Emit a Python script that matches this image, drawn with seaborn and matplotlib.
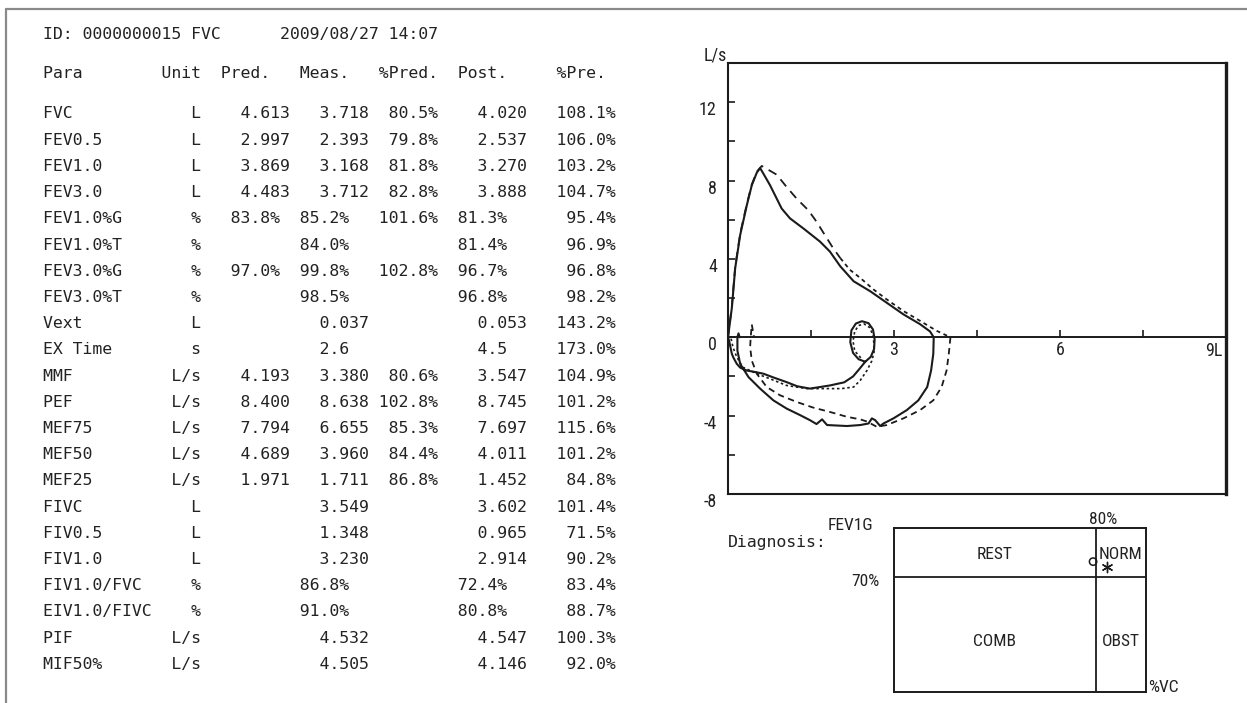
import matplotlib
matplotlib.use("Agg")
import matplotlib.pyplot as plt
import matplotlib.transforms as mtransforms
from matplotlib import font_manager
from matplotlib.lines import Line2D
import pandas as pd
import seaborn as sns

# ---------------- report table ----------------
para = ["FVC", "FEV0.5", "FEV1.0", "FEV3.0", "FEV1.0%G", "FEV1.0%T", "FEV3.0%G",
        "FEV3.0%T", "Vext", "EX Time", "MMF", "PEF", "MEF75", "MEF50", "MEF25",
        "FIVC", "FIV0.5", "FIV1.0", "FIV1.0/FVC", "EIV1.0/FIVC", "PIF", "MIF50%"]
unit = ["L", "L", "L", "L", "%", "%", "%", "%", "L", "s", "L/s", "L/s", "L/s",
        "L/s", "L/s", "L", "L", "L", "%", "%", "L/s", "L/s"]
pred = ["4.613", "2.997", "3.869", "4.483", "83.8%", "", "97.0%", "", "", "",
        "4.193", "8.400", "7.794", "4.689", "1.971", "", "", "", "", "", "", ""]
meas = ["3.718", "2.393", "3.168", "3.712", "85.2%", "84.0%", "99.8%", "98.5%",
        "0.037", "2.6", "3.380", "8.638", "6.655", "3.960", "1.711", "3.549",
        "1.348", "3.230", "86.8%", "91.0%", "4.532", "4.505"]
pct_pred = ["80.5%", "79.8%", "81.8%", "82.8%", "101.6%", "", "102.8%", "", "", "",
            "80.6%", "102.8%", "85.3%", "84.4%", "86.8%", "", "", "", "", "", "", ""]
post = ["4.020", "2.537", "3.270", "3.888", "81.3%", "81.4%", "96.7%", "96.8%",
        "0.053", "4.5", "3.547", "8.745", "7.697", "4.011", "1.452", "3.602",
        "0.965", "2.914", "72.4%", "80.8%", "4.547", "4.146"]
pct_pre = ["108.1%", "106.0%", "103.2%", "104.7%", "95.4%", "96.9%", "96.8%", "98.2%",
           "143.2%", "173.0%", "104.9%", "101.2%", "115.6%", "101.2%", "84.8%",
           "101.4%", "71.5%", "90.2%", "83.4%", "88.7%", "100.3%", "92.0%"]
headers = ["Para", "Unit", "Pred.", "Meas.", "%Pred.", "Post.", "%Pre."]
title_id = "ID: 0000000015"
title_mode = "FVC"
title_date = "2009/08/27"
title_time = "14:07"

# ---------------- flow-volume curves (volume L, flow L/s) ----------------
# measured: tidal loop -> max inspiration -> forced expiration -> forced inspiration
meas_vol = [2.48, 2.36, 2.26, 2.21, 2.23, 2.31, 2.42, 2.54, 2.62, 2.65, 2.64, 2.58, 2.48,
            2.38, 2.26, 2.10, 1.84, 1.48, 1.25, 1.06, 0.82, 0.64, 0.45, 0.34, 0.22, 0.16,
            0.10, 0.07, 0.04, 0.02, 0.00,
            0.07, 0.13, 0.22, 0.34, 0.43, 0.52, 0.58, 0.64, 0.76, 0.97, 1.12, 1.36, 1.66,
            1.84, 2.03, 2.27, 2.57, 2.87, 3.17, 3.47, 3.65, 3.718,
            3.71, 3.67, 3.60, 3.44, 3.23, 2.99, 2.81, 2.75, 2.66, 2.60, 2.54, 2.39, 2.15,
            1.79, 1.70, 1.60, 1.48, 1.30, 1.06, 0.82, 0.58, 0.37, 0.22, 0.17, 0.17, 0.19,
            0.21]
meas_flow = [-1.25, -1.12, -0.80, -0.25, 0.35, 0.70, 0.82, 0.72, 0.40, -0.10, -0.60, -1.00,
             -1.25, -1.60, -2.00, -2.30, -2.46, -2.62, -2.50, -2.29, -2.05, -1.86, -1.75,
             -1.70, -1.55, -1.36, -1.05, -0.85, -0.45, -0.18, 0.00,
             1.51, 3.53, 5.22, 6.74, 7.76, 8.40, 8.638, 8.35, 7.76, 6.57, 6.07, 5.56, 4.89,
             4.38, 3.62, 2.86, 2.35, 1.76, 1.17, 0.67, 0.30, 0.00,
             -0.85, -1.70, -2.54, -3.22, -3.72, -4.14, -4.40, -4.53, -4.23, -4.14, -4.40,
             -4.48, -4.53, -4.48, -4.19, -4.43, -4.23, -3.97, -3.64, -3.22, -2.62, -2.03,
             -1.36, -0.68, 0.00, 0.20, 0.00]

# post: tidal loop and max inspiration (dotted)
post_tidal_vol = [2.40, 2.29, 2.26, 2.29, 2.36, 2.46, 2.56, 2.62, 2.64, 2.64, 2.60, 2.51,
                  2.39, 2.27, 2.05, 1.84, 1.42, 1.06, 0.76, 0.52, 0.27, 0.16, 0.09, 0.05]
post_tidal_flow = [-1.05, -0.70, -0.20, 0.30, 0.60, 0.68, 0.50, 0.10, -0.40, -0.75, -1.20,
                   -1.70, -2.20, -2.54, -2.62, -2.62, -2.62, -2.46, -2.12, -1.86, -1.53,
                   -1.02, -0.51, 0.00]
# post: forced expiration, dashed head and dotted tail
post_exp_vol = [0.00, 0.07, 0.13, 0.22, 0.34, 0.43, 0.52, 0.61, 0.88, 1.06, 1.24, 1.45,
                1.60, 1.75, 1.90, 2.03]
post_exp_flow = [0.00, 1.60, 3.60, 5.30, 6.80, 7.80, 8.45, 8.745, 8.30, 7.67, 7.08, 6.49,
                 5.90, 5.22, 4.55, 4.04]
post_tail_vol = [2.03, 2.20, 2.39, 2.63, 2.87, 3.17, 3.47, 3.77, 4.02]
post_tail_flow = [4.04, 3.45, 3.03, 2.44, 1.93, 1.34, 0.84, 0.33, 0.00]
# post: forced inspiration (dashed)
post_insp_vol = [4.02, 3.99, 3.95, 3.86, 3.71, 3.47, 3.17, 2.87, 2.69, 2.51, 2.39, 2.15,
                 1.84, 1.54, 1.24, 0.94, 0.70, 0.52, 0.43, 0.40, 0.41, 0.43, 0.47]
post_insp_flow = [0.00, -0.85, -1.70, -2.54, -3.22, -3.72, -4.14, -4.48, -4.57, -4.30,
                  -4.19, -4.06, -3.81, -3.59, -3.30, -2.96, -2.54, -1.86, -1.19, -0.51,
                  0.00, 0.65, 0.00]

# diagnosis chart (%VC vs FEV1G)
vc_cut = 80
fev1g_cut = 70
meas_point = (79.0, 79.5)
post_point = (84.5, 76.0)
zones = ["REST", "NORM", "COMB", "OBST"]

# ---------------- styling ----------------
W, H, DPI = 1247, 703, 100
INK = "#1b1b1b"
TXT = "#222222"

sns.set_theme(style="white")
installed = {f.name for f in font_manager.fontManager.ttflist}
narrow = next((f for f in ["Liberation Sans Narrow", "DejaVu Sans Condensed", "Roboto Condensed"]
               if f in installed), "DejaVu Sans")
MONO = "DejaVu Sans Mono"
plt.rcParams["font.family"] = [narrow, "DejaVu Sans"]
plt.rcParams["text.color"] = TXT

fig = plt.figure(figsize=(W / DPI, H / DPI), dpi=DPI)
fig.patch.set_facecolor("white")


def ftext(x, y, s, **kw):
    """Place text by pixel position measured from the top-left corner."""
    kw.setdefault("va", "center")
    kw.setdefault("color", TXT)
    return fig.text(x / W, 1 - y / H, s, **kw)


# page border
fig.add_artist(Line2D([6 / W, 6 / W], [0, 1 - 9 / H], transform=fig.transFigure,
                      color="#8a8a8a", lw=1.6))
fig.add_artist(Line2D([6 / W, 1], [1 - 9 / H, 1 - 9 / H], transform=fig.transFigure,
                      color="#8a8a8a", lw=1.6))

# ---------------- table (fixed character grid) ----------------
X0 = 43
MONO_SIZE = 11.85
ROW0, ROW_STEP = 114, 26.2


def put(buf, col, s):
    for i, c in enumerate(s):
        buf[col + i] = c


def fmt_row(i):
    buf = [" "] * 60
    put(buf, 0, para[i])
    put(buf, 16 - len(unit[i]), unit[i])
    if pred[i]:
        put(buf, 19 if pred[i].endswith("%") else 20, pred[i])
    if meas[i]:
        put(buf, 26 if meas[i].endswith("%") else 28, meas[i])
    if pct_pred[i]:
        put(buf, 40 - len(pct_pred[i]), pct_pred[i])
    if post[i]:
        put(buf, 42 if post[i].endswith("%") else 44, post[i])
    if pct_pre[i]:
        put(buf, 58 - len(pct_pre[i]), pct_pre[i])
    return "".join(buf).rstrip()


title = [" "] * 42
put(title, 0, title_id)
put(title, 15, title_mode)
put(title, 24, title_date)
put(title, 35, title_time)
ftext(X0, 34, "".join(title).rstrip(), family=MONO, fontsize=MONO_SIZE)

head = [" "] * 60
for col, h in zip([0, 12, 18, 26, 34, 42, 52], headers):
    put(head, col, h)
ftext(X0, 74, "".join(head).rstrip(), family=MONO, fontsize=MONO_SIZE)

for i in range(len(para)):
    ftext(X0, ROW0 + ROW_STEP * i, fmt_row(i), family=MONO, fontsize=MONO_SIZE)

# ---------------- flow-volume plot ----------------
L, R, T, B = 728, 1226, 63, 494
ax = fig.add_axes([L / W, 1 - B / H, (R - L) / W, (B - T) / H])
ax.set_facecolor("white")

sns.lineplot(data=pd.DataFrame({"v": meas_vol, "f": meas_flow}), x="v", y="f",
             sort=False, estimator=None, ax=ax, color=INK, lw=1.5)
sns.lineplot(data=pd.DataFrame({"v": post_tidal_vol, "f": post_tidal_flow}), x="v", y="f",
             sort=False, estimator=None, ax=ax, color=INK, lw=1.2, linestyle=(0, (1.5, 1.6)))
sns.lineplot(data=pd.DataFrame({"v": post_exp_vol, "f": post_exp_flow}), x="v", y="f",
             sort=False, estimator=None, ax=ax, color=INK, lw=1.3, linestyle=(0, (5, 3.5)))
sns.lineplot(data=pd.DataFrame({"v": post_tail_vol, "f": post_tail_flow}), x="v", y="f",
             sort=False, estimator=None, ax=ax, color=INK, lw=1.3, linestyle=(0, (2.2, 2)))
sns.lineplot(data=pd.DataFrame({"v": post_insp_vol, "f": post_insp_flow}), x="v", y="f",
             sort=False, estimator=None, ax=ax, color=INK, lw=1.3, linestyle=(0, (3.5, 2.5)))

ax.set_xlim(0, 9)
ax.set_ylim(-8, 14)
ax.set_xlabel("")
ax.set_ylabel("")
for side, sp in ax.spines.items():
    sp.set_visible(True)
    sp.set_color(INK)
    sp.set_linewidth(1.5)
ax.spines["right"].set_linewidth(2.4)

ax.set_xticks([])
yt = list(range(-8, 13, 2))
ax.set_yticks(yt, [str(v) if v % 4 == 0 else "" for v in yt])
ax.tick_params(axis="y", direction="in", length=5, width=1.2, color=INK, pad=8,
               labelsize=13, labelcolor=TXT, left=True)
shift = mtransforms.ScaledTranslation(0, -6 / DPI, fig.dpi_scale_trans)
for lab in ax.get_yticklabels():
    lab.set_transform(lab.get_transform() + shift)

# zero-flow axis with volume ticks
zero_loc = (0 - (-8)) / (14 - (-8))
sec = ax.secondary_xaxis(zero_loc)
sec.set_xticks([1.5, 3, 4.5, 6, 7.5, 9], ["", "3", "", "6", "", ""])
sec.tick_params(direction="in", length=5, width=1.2, color=INK, pad=3,
                labelsize=13, labelcolor=TXT)
sec.spines["bottom"].set_color(INK)
sec.spines["bottom"].set_linewidth(1.4)
ax.text(8.93, -0.68, "9L", ha="right", va="center", fontsize=13, color=TXT)
ftext(727, 55, "L/s", ha="right", fontsize=13)

# ---------------- diagnosis chart ----------------
dL, dR, dT, dB = 894, 1146, 528, 692
ax2 = fig.add_axes([dL / W, 1 - dB / H, (dR - dL) / W, (dB - dT) / H])
ax2.set_xlim(0, 100)
ax2.set_ylim(0, 100)
ax2.set_xticks([])
ax2.set_yticks([])
for sp in ax2.spines.values():
    sp.set_visible(True)
    sp.set_color(INK)
    sp.set_linewidth(1.4)
ax2.axvline(vc_cut, color=INK, lw=1.3)
ax2.axhline(fev1g_cut, color=INK, lw=1.3)
for name, (cx, cy) in zip(zones, [(vc_cut / 2, 84), ((vc_cut + 100) / 2, 84),
                                 (vc_cut / 2, 31), ((vc_cut + 100) / 2, 31)]):
    ax2.text(cx, cy, name, ha="center", va="center", fontsize=12.5, color=TXT)
sns.scatterplot(x=[meas_point[0]], y=[meas_point[1]], ax=ax2, marker="o", s=28,
                facecolor="none", edgecolor=INK, linewidth=1.1)
sns.scatterplot(x=[post_point[0]], y=[post_point[1]], ax=ax2, marker=(6, 2, 0), s=55,
                color=INK, linewidth=1.0)
ax2.set_xlabel("")
ax2.set_ylabel("")

ftext(728, 543, "Diagnosis:", family=MONO, fontsize=MONO_SIZE)
ftext(828, 526, "FEV1G", fontsize=12.5)
ftext(1103, 520, "80%", ha="center", fontsize=12.5)
ftext(865, 581, "70%", ha="center", fontsize=12.5)
ftext(1148, 687, "%VC", fontsize=12.5)

fig.savefig("out.png", dpi=DPI, facecolor="white")
